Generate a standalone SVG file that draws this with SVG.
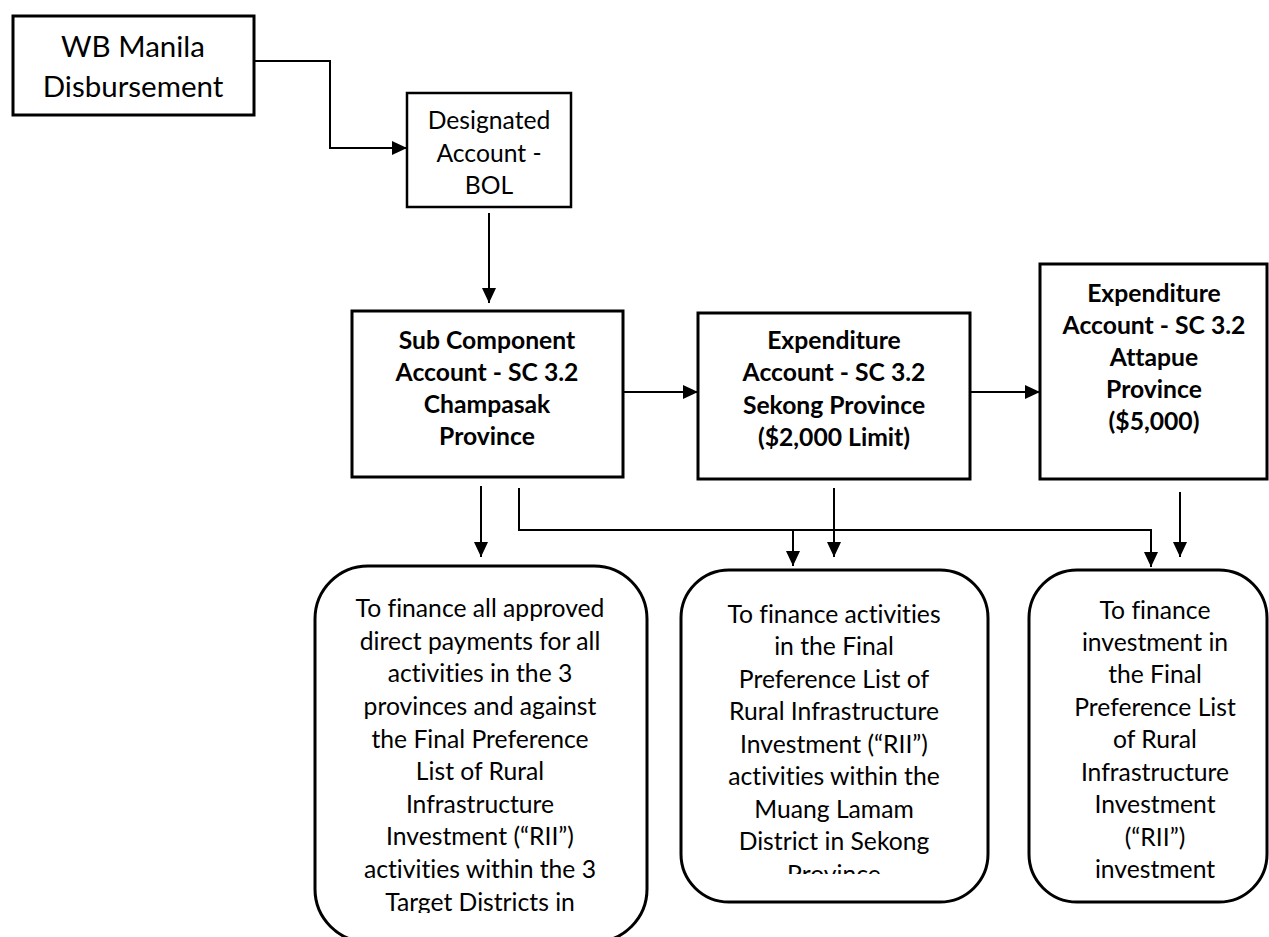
<svg xmlns="http://www.w3.org/2000/svg" width="1269" height="937" viewBox="0 0 1269 937">
<style>
.box{fill:#fff;stroke:#000;stroke-width:3}
.thin{fill:#fff;stroke:#000;stroke-width:2.5}
.t{font-family:Lato,"Liberation Sans",sans-serif;font-size:24.7px;fill:#000;text-anchor:middle;font-variant-ligatures:none;font-feature-settings:"liga" 0,"clig" 0,"dlig" 0}
.b{font-weight:bold}
.big{font-size:29.5px}
.c{fill:none;stroke:#000;stroke-width:2}
</style>
<defs>
<marker id="ah" markerUnits="userSpaceOnUse" markerWidth="16" markerHeight="16" refX="15" refY="7" orient="auto">
<path d="M0,0 L15,7 L0,14 z" fill="#000"/>
</marker>
<clipPath id="clipA"><rect x="300" y="560" width="360" height="353"/></clipPath>
<clipPath id="clipB"><rect x="670" y="560" width="330" height="314"/></clipPath>
</defs>
<rect width="1269" height="937" fill="#fff"/>
<g id="connectors">
<path class="c" d="M254,61 H330 V148 H407" marker-end="url(#ah)"/>
<path class="c" d="M489,213 V303" marker-end="url(#ah)"/>
<path class="c" d="M623,392 H698" marker-end="url(#ah)"/>
<path class="c" d="M970,392 H1040" marker-end="url(#ah)"/>
<path class="c" d="M481,486 V557" marker-end="url(#ah)"/>
<path class="c" d="M519,488 V530 H1151 V567" marker-end="url(#ah)"/>
<path class="c" d="M793,530 V566" marker-end="url(#ah)"/>
<path class="c" d="M834,488 V557" marker-end="url(#ah)"/>
<path class="c" d="M1180,492 V557" marker-end="url(#ah)"/>
</g>
<g id="wb">
<rect class="box" x="13" y="16" width="241" height="99"/>
<text class="t big" x="133" y="57">WB Manila</text>
<text class="t big" x="133" y="97">Disbursement</text>
</g>
<g id="designated">
<rect class="thin" x="407" y="93" width="164" height="114"/>
<text class="t" x="489" y="129">Designated</text>
<text class="t" x="489" y="162">Account -</text>
<text class="t" x="489" y="194">BOL</text>
</g>
<g id="subcomp">
<rect class="box" x="352" y="311" width="271" height="166"/>
<text class="t b" x="487" y="349">Sub Component</text>
<text class="t b" x="487" y="381">Account - SC 3.2</text>
<text class="t b" x="487" y="413">Champasak</text>
<text class="t b" x="487" y="445">Province</text>
</g>
<g id="sekong">
<rect class="box" x="698" y="313" width="272" height="166"/>
<text class="t b" x="834" y="349">Expenditure</text>
<text class="t b" x="834" y="381">Account - SC 3.2</text>
<text class="t b" x="834" y="414">Sekong Province</text>
<text class="t b" x="834" y="446">($2,000 Limit)</text>
</g>
<g id="attapue">
<rect class="box" x="1040" y="264" width="227" height="215"/>
<text class="t b" x="1154" y="302">Expenditure</text>
<text class="t b" x="1154" y="334">Account - SC 3.2</text>
<text class="t b" x="1154" y="366">Attapue</text>
<text class="t b" x="1154" y="398">Province</text>
<text class="t b" x="1154" y="430">($5,000)</text>
</g>
<g id="descA">
<rect class="box" x="315" y="566" width="332" height="376" rx="53" ry="53"/>
<g clip-path="url(#clipA)">
<text class="t" x="480" y="617">To finance all approved</text>
<text class="t" x="480" y="650">direct payments for all</text>
<text class="t" x="480" y="682">activities in the 3</text>
<text class="t" x="480" y="715">provinces and against</text>
<text class="t" x="480" y="748">the Final Preference</text>
<text class="t" x="480" y="780">List of Rural</text>
<text class="t" x="480" y="813">Infrastructure</text>
<text class="t" x="480" y="845">Investment (“RII”)</text>
<text class="t" x="480" y="878">activities within the 3</text>
<text class="t" x="480" y="911">Target Districts in</text>
</g>
</g>
<g id="descB">
<rect class="box" x="681" y="570" width="307" height="332" rx="48" ry="48"/>
<g clip-path="url(#clipB)">
<text class="t" x="834" y="623">To finance activities</text>
<text class="t" x="834" y="655">in the Final</text>
<text class="t" x="834" y="688">Preference List of</text>
<text class="t" x="834" y="720">Rural Infrastructure</text>
<text class="t" x="834" y="753">Investment (“RII”)</text>
<text class="t" x="834" y="785">activities within the</text>
<text class="t" x="834" y="818">Muang Lamam</text>
<text class="t" x="834" y="850">District in Sekong</text>
<text class="t" x="834" y="883">Province</text>
</g>
</g>
<g id="descC">
<rect class="box" x="1029" y="570" width="238" height="332" rx="48" ry="48"/>
<text class="t" x="1155" y="619">To finance</text>
<text class="t" x="1155" y="651">investment in</text>
<text class="t" x="1155" y="683">the Final</text>
<text class="t" x="1155" y="716">Preference List</text>
<text class="t" x="1155" y="748">of Rural</text>
<text class="t" x="1155" y="781">Infrastructure</text>
<text class="t" x="1155" y="813">Investment</text>
<text class="t" x="1155" y="846">(“RII”)</text>
<text class="t" x="1155" y="878">investment</text>
</g>
</svg>
